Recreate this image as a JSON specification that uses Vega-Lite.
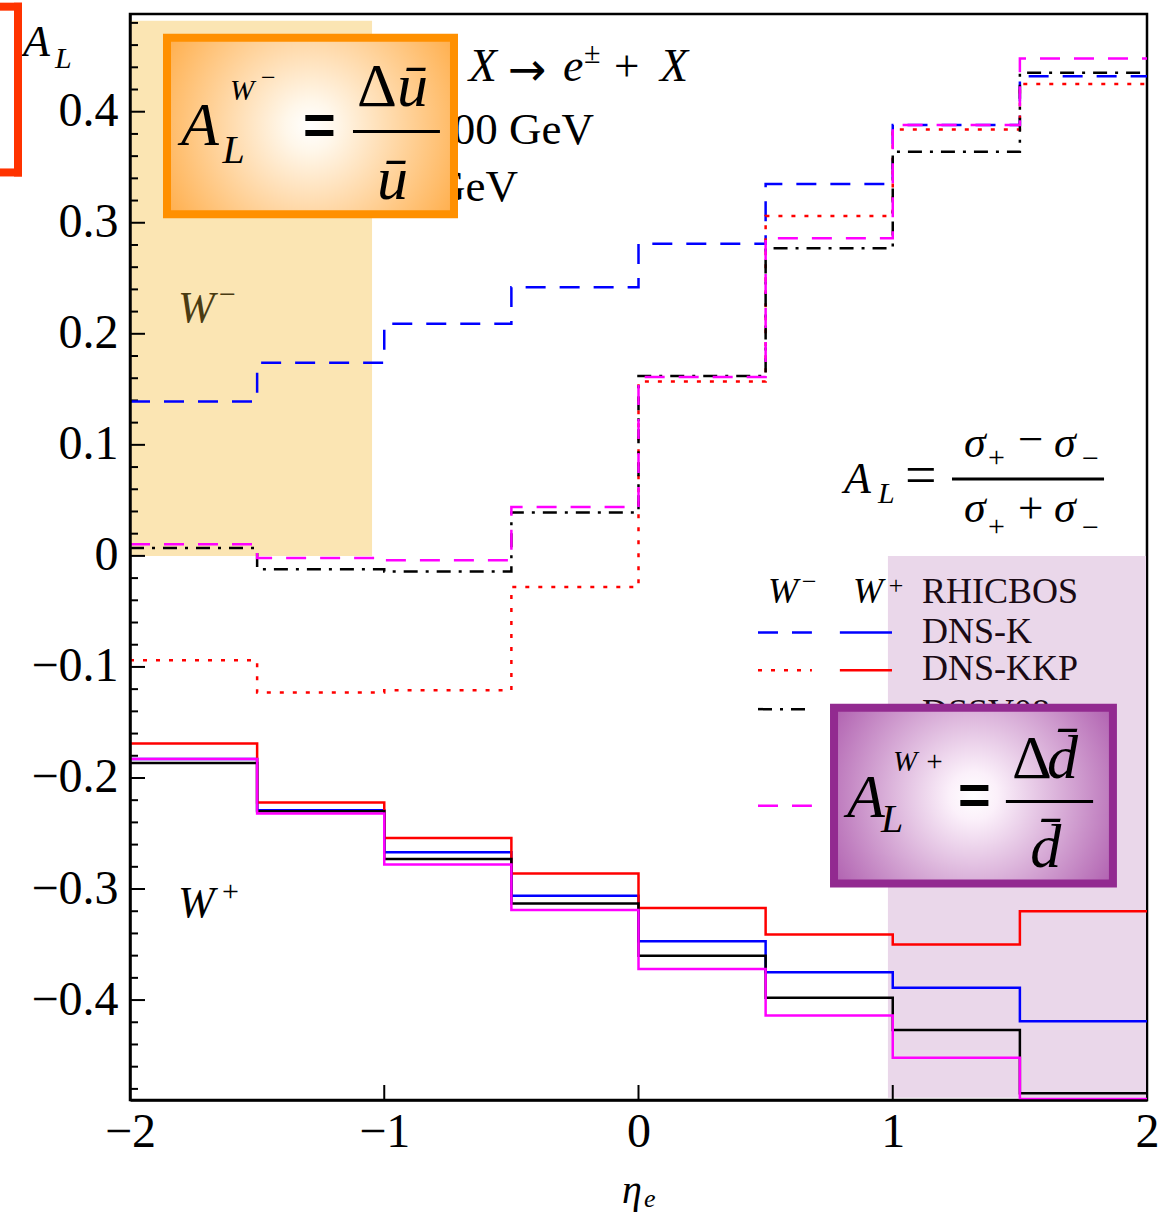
{
  "$schema": "https://vega.github.io/schema/vega-lite/v6.json",
  "width": 1017,
  "height": 1086,
  "autosize": {"type": "none"},
  "padding": {"left": 130, "top": 14, "right": 23, "bottom": 113},
  "background": "white",
  "config": {
    "view": {"stroke": "black", "strokeWidth": 2.5},
    "numberFormat": ".1~f",
    "axis": {"ticks": false, "grid": false, "domain": true, "domainColor": "black", "domainWidth": 2.5, "labelFont": "Liberation Serif", "labelFontSize": 48, "labelColor": "black", "labelFlush": false, "labelOverlap": false},
    "axisX": {"labelPadding": 8},
    "axisY": {"labelPadding": 12}
  },
  "datasets": {
    "al": [
      {"pdf": "DNS-K", "W": "W-", "x": -2, "y": 0.139}, {"pdf": "DNS-K", "W": "W-", "x": -1.5, "y": 0.174}, {"pdf": "DNS-K", "W": "W-", "x": -1, "y": 0.209}, {"pdf": "DNS-K", "W": "W-", "x": -0.5, "y": 0.242}, {"pdf": "DNS-K", "W": "W-", "x": 0, "y": 0.281}, {"pdf": "DNS-K", "W": "W-", "x": 0.5, "y": 0.335}, {"pdf": "DNS-K", "W": "W-", "x": 1, "y": 0.388}, {"pdf": "DNS-K", "W": "W-", "x": 1.5, "y": 0.432}, {"pdf": "DNS-K", "W": "W-", "x": 2, "y": 0.432},
      {"pdf": "DNS-KKP", "W": "W-", "x": -2, "y": -0.094}, {"pdf": "DNS-KKP", "W": "W-", "x": -1.5, "y": -0.123}, {"pdf": "DNS-KKP", "W": "W-", "x": -1, "y": -0.121}, {"pdf": "DNS-KKP", "W": "W-", "x": -0.5, "y": -0.028}, {"pdf": "DNS-KKP", "W": "W-", "x": 0, "y": 0.157}, {"pdf": "DNS-KKP", "W": "W-", "x": 0.5, "y": 0.306}, {"pdf": "DNS-KKP", "W": "W-", "x": 1, "y": 0.384}, {"pdf": "DNS-KKP", "W": "W-", "x": 1.5, "y": 0.425}, {"pdf": "DNS-KKP", "W": "W-", "x": 2, "y": 0.425},
      {"pdf": "DSSV08", "W": "W-", "x": -2, "y": 0.007}, {"pdf": "DSSV08", "W": "W-", "x": -1.5, "y": -0.012}, {"pdf": "DSSV08", "W": "W-", "x": -1, "y": -0.014}, {"pdf": "DSSV08", "W": "W-", "x": -0.5, "y": 0.039}, {"pdf": "DSSV08", "W": "W-", "x": 0, "y": 0.162}, {"pdf": "DSSV08", "W": "W-", "x": 0.5, "y": 0.277}, {"pdf": "DSSV08", "W": "W-", "x": 1, "y": 0.364}, {"pdf": "DSSV08", "W": "W-", "x": 1.5, "y": 0.435}, {"pdf": "DSSV08", "W": "W-", "x": 2, "y": 0.435},
      {"pdf": "Model 5", "W": "W-", "x": -2, "y": 0.0105}, {"pdf": "Model 5", "W": "W-", "x": -1.5, "y": -0.002}, {"pdf": "Model 5", "W": "W-", "x": -1, "y": -0.004}, {"pdf": "Model 5", "W": "W-", "x": -0.5, "y": 0.044}, {"pdf": "Model 5", "W": "W-", "x": 0, "y": 0.161}, {"pdf": "Model 5", "W": "W-", "x": 0.5, "y": 0.286}, {"pdf": "Model 5", "W": "W-", "x": 1, "y": 0.388}, {"pdf": "Model 5", "W": "W-", "x": 1.5, "y": 0.448}, {"pdf": "Model 5", "W": "W-", "x": 2, "y": 0.448},
      {"pdf": "DNS-K", "W": "W+", "x": -2, "y": -0.183}, {"pdf": "DNS-K", "W": "W+", "x": -1.5, "y": -0.229}, {"pdf": "DNS-K", "W": "W+", "x": -1, "y": -0.267}, {"pdf": "DNS-K", "W": "W+", "x": -0.5, "y": -0.306}, {"pdf": "DNS-K", "W": "W+", "x": 0, "y": -0.347}, {"pdf": "DNS-K", "W": "W+", "x": 0.5, "y": -0.375}, {"pdf": "DNS-K", "W": "W+", "x": 1, "y": -0.389}, {"pdf": "DNS-K", "W": "W+", "x": 1.5, "y": -0.419}, {"pdf": "DNS-K", "W": "W+", "x": 2, "y": -0.419},
      {"pdf": "DNS-KKP", "W": "W+", "x": -2, "y": -0.169}, {"pdf": "DNS-KKP", "W": "W+", "x": -1.5, "y": -0.222}, {"pdf": "DNS-KKP", "W": "W+", "x": -1, "y": -0.254}, {"pdf": "DNS-KKP", "W": "W+", "x": -0.5, "y": -0.286}, {"pdf": "DNS-KKP", "W": "W+", "x": 0, "y": -0.317}, {"pdf": "DNS-KKP", "W": "W+", "x": 0.5, "y": -0.341}, {"pdf": "DNS-KKP", "W": "W+", "x": 1, "y": -0.35}, {"pdf": "DNS-KKP", "W": "W+", "x": 1.5, "y": -0.32}, {"pdf": "DNS-KKP", "W": "W+", "x": 2, "y": -0.32},
      {"pdf": "DSSV08", "W": "W+", "x": -2, "y": -0.1865}, {"pdf": "DSSV08", "W": "W+", "x": -1.5, "y": -0.23}, {"pdf": "DSSV08", "W": "W+", "x": -1, "y": -0.273}, {"pdf": "DSSV08", "W": "W+", "x": -0.5, "y": -0.313}, {"pdf": "DSSV08", "W": "W+", "x": 0, "y": -0.36}, {"pdf": "DSSV08", "W": "W+", "x": 0.5, "y": -0.398}, {"pdf": "DSSV08", "W": "W+", "x": 1, "y": -0.427}, {"pdf": "DSSV08", "W": "W+", "x": 1.5, "y": -0.484}, {"pdf": "DSSV08", "W": "W+", "x": 2, "y": -0.484},
      {"pdf": "Model 5", "W": "W+", "x": -2, "y": -0.183}, {"pdf": "Model 5", "W": "W+", "x": -1.5, "y": -0.232}, {"pdf": "Model 5", "W": "W+", "x": -1, "y": -0.278}, {"pdf": "Model 5", "W": "W+", "x": -0.5, "y": -0.319}, {"pdf": "Model 5", "W": "W+", "x": 0, "y": -0.372}, {"pdf": "Model 5", "W": "W+", "x": 0.5, "y": -0.414}, {"pdf": "Model 5", "W": "W+", "x": 1, "y": -0.452}, {"pdf": "Model 5", "W": "W+", "x": 1.5, "y": -0.489}, {"pdf": "Model 5", "W": "W+", "x": 2, "y": -0.489}
    ],
    "shade": [
      {"r": "Wm", "x": -1.996, "x2": -1.048, "y": 0, "y2": 0.482},
      {"r": "Wp", "x": 0.981, "x2": 1.996, "y": -0.488, "y2": 0}
    ],
    "minor": [
      {"y": -0.48}, {"y": -0.46}, {"y": -0.44}, {"y": -0.42}, {"y": -0.38}, {"y": -0.36}, {"y": -0.34}, {"y": -0.32},
      {"y": -0.28}, {"y": -0.26}, {"y": -0.24}, {"y": -0.22}, {"y": -0.18}, {"y": -0.16}, {"y": -0.14}, {"y": -0.12},
      {"y": -0.08}, {"y": -0.06}, {"y": -0.04}, {"y": -0.02}, {"y": 0.02}, {"y": 0.04}, {"y": 0.06}, {"y": 0.08},
      {"y": 0.12}, {"y": 0.14}, {"y": 0.16}, {"y": 0.18}, {"y": 0.22}, {"y": 0.24}, {"y": 0.26}, {"y": 0.28},
      {"y": 0.32}, {"y": 0.34}, {"y": 0.36}, {"y": 0.38}, {"y": 0.42}, {"y": 0.44}, {"y": 0.46}, {"y": 0.48}
    ],
    "major": [
      {"y": -0.4}, {"y": -0.3}, {"y": -0.2}, {"y": -0.1}, {"y": 0}, {"y": 0.1}, {"y": 0.2}, {"y": 0.3}, {"y": 0.4}
    ],
    "xtick": [{"x": -1}, {"x": 0}, {"x": 1}],
    "leg": [
      {"pdf": "DNS-K", "W": "W-", "x": 0.47, "x2": 0.682, "y": -0.069},
      {"pdf": "DNS-KKP", "W": "W-", "x": 0.47, "x2": 0.682, "y": -0.103},
      {"pdf": "DSSV08", "W": "W-", "x": 0.47, "x2": 0.682, "y": -0.138},
      {"pdf": "Model 5", "W": "W-", "x": 0.47, "x2": 0.682, "y": -0.225},
      {"pdf": "DNS-K", "W": "W+", "x": 0.792, "x2": 0.997, "y": -0.069},
      {"pdf": "DNS-KKP", "W": "W+", "x": 0.792, "x2": 0.997, "y": -0.103},
      {"pdf": "DSSV08", "W": "W+", "x": 0.792, "x2": 0.997, "y": -0.138},
      {"pdf": "Model 5", "W": "W+", "x": 0.792, "x2": 0.997, "y": -0.225}
    ],
    "t_it44": [
      {"x": -2.4208, "y": 0.4505, "t": "A"},
      {"x": -1.8112, "y": -0.3255, "t": "W"},
      {"x": 0.808, "y": 0.0567, "t": "A"},
      {"x": 1.2802, "y": 0.089, "t": "σ"},
      {"x": 1.6342, "y": 0.089, "t": "σ"},
      {"x": 1.2802, "y": 0.0306, "t": "σ"},
      {"x": 1.6342, "y": 0.0306, "t": "σ"}
    ],
    "t_it44_olive": [{"x": -1.8112, "y": 0.2104, "t": "W"}],
    "t_it30": [
      {"x": -2.295, "y": 0.4397, "t": "L"},
      {"x": 0.942, "y": 0.048, "t": "L"}
    ],
    "t_rm30": [
      {"x": -1.638, "y": -0.311, "t": "+"},
      {"x": -0.2144, "y": 0.444, "t": "±"},
      {"x": 1.3746, "y": 0.08, "t": "+"},
      {"x": 1.7443, "y": 0.0791, "t": "−"},
      {"x": 1.3746, "y": 0.018, "t": "+"},
      {"x": 1.7443, "y": 0.0171, "t": "−"}
    ],
    "t_rm30_olive": [{"x": -1.65, "y": 0.2266, "t": "−"}],
    "t_rm45": [
      {"x": 1.4926, "y": 0.0917, "t": "−"},
      {"x": 1.4926, "y": 0.0297, "t": "+"},
      {"x": -0.0964, "y": 0.428, "t": "+"}
    ],
    "t_eq56": [{"x": 1.048, "y": 0.0558, "t": "="}],
    "t_it40": [{"x": -0.0649, "y": -0.5827, "t": "η"}],
    "t_it26": [
      {"x": 0.0216, "y": -0.5863, "t": "e"},
      {"x": 0.635, "y": -0.0306, "t": "−"},
      {"x": 0.977, "y": -0.034, "t": "+"}
    ],
    "t_leg_it": [
      {"x": 0.5093, "y": -0.0423, "t": "W"},
      {"x": 0.8437, "y": -0.0423, "t": "W"}
    ],
    "t_leg_rm": [
      {"x": 1.115, "y": -0.0423, "t": "RHICBOS"},
      {"x": 1.115, "y": -0.0782, "t": "DNS-K"},
      {"x": 1.115, "y": -0.1115, "t": "DNS-KKP"},
      {"x": 1.115, "y": -0.1511, "t": "DSSV08"}
    ],
    "t_l1_right": [{"x": -0.5566, "y": 0.428, "t": "W± + X"}],
    "t_l1_left": [{"x": -0.297, "y": 0.428, "t": "e"}, {"x": 0.0846, "y": 0.428, "t": "X"}],
    "t_arrow": [{"x": -0.5133, "y": 0.424, "t": "→"}],
    "t_line23": [
      {"x": -0.175, "y": 0.371, "t": "√s = 500 GeV"},
      {"x": -0.474, "y": 0.32, "t": "pT > 25 GeV"}
    ],
    "obox": [{"x": -1.8545, "x2": -0.7257, "y": 0.4667, "y2": 0.3076}],
    "pbox": [{"x": 0.769, "x2": 1.866, "y": -0.1367, "y2": -0.295}],
    "b_A": [{"x": -1.799, "y": 0.3696, "t": "A"}, {"x": 0.82, "y": -0.2347, "t": "A"}],
    "b_L": [{"x": -1.636, "y": 0.3534, "t": "L"}, {"x": 0.954, "y": -0.249, "t": "L"}],
    "b_W": [{"x": -1.607, "y": 0.411, "t": "W"}, {"x": 1.001, "y": -0.194, "t": "W +"}],
    "b_minus": [{"x": -1.485, "y": 0.4236, "t": "−"}],
    "b_eq": [{"x": -1.3196, "y": 0.3705, "t": "="}, {"x": 1.257, "y": -0.232, "t": "="}],
    "b_delta": [{"x": -1.1072, "y": 0.4047, "t": "Δ"}, {"x": 1.469, "y": -0.1996, "t": "Δ"}],
    "b_var": [
      {"x": -0.9499, "y": 0.4047, "t": "ū"},
      {"x": -1.0285, "y": 0.321, "t": "ū"},
      {"x": 1.6066, "y": -0.1996, "t": "d̄"},
      {"x": 1.5406, "y": -0.2806, "t": "d̄"}
    ],
    "fracline": [
      {"x": 1.233, "x2": 1.831, "y": 0.0692},
      {"x": -1.123, "x2": -0.781, "y": 0.3822},
      {"x": 1.445, "x2": 1.788, "y": -0.2212}
    ],
    "bracket": [
      {"x": -2.4405, "x2": -2.4405, "y": 0.4982, "y2": 0.3417},
      {"x": -2.52, "x2": -2.4248, "y": 0.4946, "y2": 0.4946},
      {"x": -2.52, "x2": -2.4248, "y": 0.3453, "y2": 0.3453}
    ]
  },
  "layer": [
    {
      "data": {"name": "shade"},
      "mark": {"type": "rect"},
      "encoding": {
        "x": {"field": "x", "type": "quantitative", "scale": {"domain": [-2, 2], "nice": false, "zero": false}, "axis": {"values": [-2, -1, 0, 1, 2], "title": null, "zindex": 1}},
        "x2": {"field": "x2"},
        "y": {"field": "y", "type": "quantitative", "scale": {"domain": [-0.49, 0.488], "nice": false, "zero": false}, "axis": {"values": [-0.4, -0.3, -0.2, -0.1, 0, 0.1, 0.2, 0.3, 0.4], "title": null, "zindex": 1}},
        "y2": {"field": "y2"},
        "fill": {"field": "r", "type": "nominal", "scale": {"domain": ["Wm", "Wp"], "range": ["#FBE5B3", "#EAD7EA"]}, "legend": null}
      }
    },
    {
      "mark": {"type": "rule", "color": "black", "strokeWidth": 2.5},
      "encoding": {"y": {"datum": 0, "type": "quantitative", "axis": {"values": [-0.4, -0.3, -0.2, -0.1, 0, 0.1, 0.2, 0.3, 0.4], "title": null, "zindex": 1}}}
    },
    {
      "data": {"name": "minor"},
      "mark": {"type": "rule", "color": "black", "strokeWidth": 2},
      "encoding": {
        "x": {"datum": -2, "type": "quantitative", "axis": {"values": [-2, -1, 0, 1, 2], "title": null, "zindex": 1}},
        "x2": {"datum": -1.9685},
        "y": {"field": "y", "type": "quantitative", "axis": {"values": [-0.4, -0.3, -0.2, -0.1, 0, 0.1, 0.2, 0.3, 0.4], "title": null, "zindex": 1}}
      }
    },
    {
      "data": {"name": "major"},
      "mark": {"type": "rule", "color": "black", "strokeWidth": 2},
      "encoding": {
        "x": {"datum": -2, "type": "quantitative", "axis": {"values": [-2, -1, 0, 1, 2], "title": null, "zindex": 1}},
        "x2": {"datum": -1.941},
        "y": {"field": "y", "type": "quantitative", "axis": {"values": [-0.4, -0.3, -0.2, -0.1, 0, 0.1, 0.2, 0.3, 0.4], "title": null, "zindex": 1}}
      }
    },
    {
      "data": {"name": "xtick"},
      "mark": {"type": "rule", "color": "black", "strokeWidth": 2},
      "encoding": {
        "x": {"field": "x", "type": "quantitative", "axis": {"values": [-2, -1, 0, 1, 2], "title": null, "zindex": 1}},
        "y": {"datum": -0.49, "type": "quantitative", "axis": {"values": [-0.4, -0.3, -0.2, -0.1, 0, 0.1, 0.2, 0.3, 0.4], "title": null, "zindex": 1}},
        "y2": {"datum": -0.4765}
      }
    },
    {
      "data": {"name": "al"},
      "transform": [{"filter": "datum.W == 'W-'"}],
      "mark": {"type": "line", "interpolate": "step-after", "strokeWidth": 2.5, "strokeCap": "butt"},
      "encoding": {
        "x": {"field": "x", "type": "quantitative", "axis": {"values": [-2, -1, 0, 1, 2], "title": null, "zindex": 1}},
        "y": {"field": "y", "type": "quantitative", "axis": {"values": [-0.4, -0.3, -0.2, -0.1, 0, 0.1, 0.2, 0.3, 0.4], "title": null, "zindex": 1}},
        "color": {"field": "pdf", "type": "nominal", "scale": {"domain": ["DNS-K", "DNS-KKP", "DSSV08", "Model 5"], "range": ["#0000FF", "#FF0000", "#000000", "#FF00FF"]}, "legend": null},
        "strokeDash": {"field": "pdf", "type": "nominal", "scale": {"domain": ["DNS-K", "DNS-KKP", "DSSV08", "Model 5"], "range": [[20, 14], [4, 9], [14, 8, 3, 8], [20, 14]]}, "legend": null}
      }
    },
    {
      "data": {"name": "al"},
      "transform": [{"filter": "datum.W == 'W+'"}],
      "mark": {"type": "line", "interpolate": "step-after", "strokeWidth": 2.5, "strokeCap": "butt"},
      "encoding": {
        "x": {"field": "x", "type": "quantitative", "axis": {"values": [-2, -1, 0, 1, 2], "title": null, "zindex": 1}},
        "y": {"field": "y", "type": "quantitative", "axis": {"values": [-0.4, -0.3, -0.2, -0.1, 0, 0.1, 0.2, 0.3, 0.4], "title": null, "zindex": 1}},
        "color": {"field": "pdf", "type": "nominal", "legend": null}
      }
    },
    {
      "data": {"name": "leg"},
      "transform": [{"filter": "datum.W == 'W-'"}],
      "mark": {"type": "rule", "strokeWidth": 2.5, "strokeCap": "butt"},
      "encoding": {
        "x": {"field": "x", "type": "quantitative", "axis": {"values": [-2, -1, 0, 1, 2], "title": null, "zindex": 1}},
        "x2": {"field": "x2"},
        "y": {"field": "y", "type": "quantitative", "axis": {"values": [-0.4, -0.3, -0.2, -0.1, 0, 0.1, 0.2, 0.3, 0.4], "title": null, "zindex": 1}},
        "color": {"field": "pdf", "type": "nominal", "legend": null},
        "strokeDash": {"field": "pdf", "type": "nominal", "legend": null}
      }
    },
    {
      "data": {"name": "leg"},
      "transform": [{"filter": "datum.W == 'W+'"}],
      "mark": {"type": "rule", "strokeWidth": 2.5, "strokeCap": "butt"},
      "encoding": {
        "x": {"field": "x", "type": "quantitative", "axis": {"values": [-2, -1, 0, 1, 2], "title": null, "zindex": 1}},
        "x2": {"field": "x2"},
        "y": {"field": "y", "type": "quantitative", "axis": {"values": [-0.4, -0.3, -0.2, -0.1, 0, 0.1, 0.2, 0.3, 0.4], "title": null, "zindex": 1}},
        "color": {"field": "pdf", "type": "nominal", "legend": null}
      }
    },
    {
      "data": {"name": "t_it44"},
      "mark": {"type": "text", "font": "Liberation Serif", "fontStyle": "italic", "fontSize": 44, "align": "left", "baseline": "alphabetic", "color": "black"},
      "encoding": {"x": {"field": "x", "type": "quantitative", "axis": {"values": [-2, -1, 0, 1, 2], "title": null, "zindex": 1}}, "y": {"field": "y", "type": "quantitative", "axis": {"values": [-0.4, -0.3, -0.2, -0.1, 0, 0.1, 0.2, 0.3, 0.4], "title": null, "zindex": 1}}, "text": {"field": "t"}}
    },
    {
      "data": {"name": "t_it44_olive"},
      "mark": {"type": "text", "font": "Liberation Serif", "fontStyle": "italic", "fontSize": 44, "align": "left", "baseline": "alphabetic", "color": "#4A3B12"},
      "encoding": {"x": {"field": "x", "type": "quantitative", "axis": {"values": [-2, -1, 0, 1, 2], "title": null, "zindex": 1}}, "y": {"field": "y", "type": "quantitative", "axis": {"values": [-0.4, -0.3, -0.2, -0.1, 0, 0.1, 0.2, 0.3, 0.4], "title": null, "zindex": 1}}, "text": {"field": "t"}}
    },
    {
      "data": {"name": "t_it30"},
      "mark": {"type": "text", "font": "Liberation Serif", "fontStyle": "italic", "fontSize": 30, "align": "left", "baseline": "alphabetic", "color": "black"},
      "encoding": {"x": {"field": "x", "type": "quantitative", "axis": {"values": [-2, -1, 0, 1, 2], "title": null, "zindex": 1}}, "y": {"field": "y", "type": "quantitative", "axis": {"values": [-0.4, -0.3, -0.2, -0.1, 0, 0.1, 0.2, 0.3, 0.4], "title": null, "zindex": 1}}, "text": {"field": "t"}}
    },
    {
      "data": {"name": "t_rm30"},
      "mark": {"type": "text", "font": "Liberation Serif", "fontSize": 30, "align": "left", "baseline": "alphabetic", "color": "black"},
      "encoding": {"x": {"field": "x", "type": "quantitative", "axis": {"values": [-2, -1, 0, 1, 2], "title": null, "zindex": 1}}, "y": {"field": "y", "type": "quantitative", "axis": {"values": [-0.4, -0.3, -0.2, -0.1, 0, 0.1, 0.2, 0.3, 0.4], "title": null, "zindex": 1}}, "text": {"field": "t"}}
    },
    {
      "data": {"name": "t_rm30_olive"},
      "mark": {"type": "text", "font": "Liberation Serif", "fontSize": 30, "align": "left", "baseline": "alphabetic", "color": "#4A3B12"},
      "encoding": {"x": {"field": "x", "type": "quantitative", "axis": {"values": [-2, -1, 0, 1, 2], "title": null, "zindex": 1}}, "y": {"field": "y", "type": "quantitative", "axis": {"values": [-0.4, -0.3, -0.2, -0.1, 0, 0.1, 0.2, 0.3, 0.4], "title": null, "zindex": 1}}, "text": {"field": "t"}}
    },
    {
      "data": {"name": "t_rm45"},
      "mark": {"type": "text", "font": "Liberation Serif", "fontSize": 45, "align": "left", "baseline": "alphabetic", "color": "black"},
      "encoding": {"x": {"field": "x", "type": "quantitative", "axis": {"values": [-2, -1, 0, 1, 2], "title": null, "zindex": 1}}, "y": {"field": "y", "type": "quantitative", "axis": {"values": [-0.4, -0.3, -0.2, -0.1, 0, 0.1, 0.2, 0.3, 0.4], "title": null, "zindex": 1}}, "text": {"field": "t"}}
    },
    {
      "data": {"name": "t_eq56"},
      "mark": {"type": "text", "font": "Liberation Serif", "fontSize": 56, "align": "left", "baseline": "alphabetic", "color": "black"},
      "encoding": {"x": {"field": "x", "type": "quantitative", "axis": {"values": [-2, -1, 0, 1, 2], "title": null, "zindex": 1}}, "y": {"field": "y", "type": "quantitative", "axis": {"values": [-0.4, -0.3, -0.2, -0.1, 0, 0.1, 0.2, 0.3, 0.4], "title": null, "zindex": 1}}, "text": {"field": "t"}}
    },
    {
      "data": {"name": "t_it40"},
      "mark": {"type": "text", "font": "Liberation Serif", "fontStyle": "italic", "fontSize": 40, "align": "left", "baseline": "alphabetic", "color": "black"},
      "encoding": {"x": {"field": "x", "type": "quantitative", "axis": {"values": [-2, -1, 0, 1, 2], "title": null, "zindex": 1}}, "y": {"field": "y", "type": "quantitative", "axis": {"values": [-0.4, -0.3, -0.2, -0.1, 0, 0.1, 0.2, 0.3, 0.4], "title": null, "zindex": 1}}, "text": {"field": "t"}}
    },
    {
      "data": {"name": "t_it26"},
      "mark": {"type": "text", "font": "Liberation Serif", "fontStyle": "italic", "fontSize": 26, "align": "left", "baseline": "alphabetic", "color": "black"},
      "encoding": {"x": {"field": "x", "type": "quantitative", "axis": {"values": [-2, -1, 0, 1, 2], "title": null, "zindex": 1}}, "y": {"field": "y", "type": "quantitative", "axis": {"values": [-0.4, -0.3, -0.2, -0.1, 0, 0.1, 0.2, 0.3, 0.4], "title": null, "zindex": 1}}, "text": {"field": "t"}}
    },
    {
      "data": {"name": "t_leg_it"},
      "mark": {"type": "text", "font": "Liberation Serif", "fontStyle": "italic", "fontSize": 36, "align": "left", "baseline": "alphabetic", "color": "black"},
      "encoding": {"x": {"field": "x", "type": "quantitative", "axis": {"values": [-2, -1, 0, 1, 2], "title": null, "zindex": 1}}, "y": {"field": "y", "type": "quantitative", "axis": {"values": [-0.4, -0.3, -0.2, -0.1, 0, 0.1, 0.2, 0.3, 0.4], "title": null, "zindex": 1}}, "text": {"field": "t"}}
    },
    {
      "data": {"name": "t_leg_rm"},
      "mark": {"type": "text", "font": "Liberation Serif", "fontSize": 36, "align": "left", "baseline": "alphabetic", "color": "#1A0A14"},
      "encoding": {"x": {"field": "x", "type": "quantitative", "axis": {"values": [-2, -1, 0, 1, 2], "title": null, "zindex": 1}}, "y": {"field": "y", "type": "quantitative", "axis": {"values": [-0.4, -0.3, -0.2, -0.1, 0, 0.1, 0.2, 0.3, 0.4], "title": null, "zindex": 1}}, "text": {"field": "t"}}
    },
    {
      "data": {"name": "t_l1_right"},
      "mark": {"type": "text", "font": "Liberation Serif", "fontStyle": "italic", "fontSize": 46, "align": "right", "baseline": "alphabetic", "color": "black"},
      "encoding": {"x": {"field": "x", "type": "quantitative", "axis": {"values": [-2, -1, 0, 1, 2], "title": null, "zindex": 1}}, "y": {"field": "y", "type": "quantitative", "axis": {"values": [-0.4, -0.3, -0.2, -0.1, 0, 0.1, 0.2, 0.3, 0.4], "title": null, "zindex": 1}}, "text": {"field": "t"}}
    },
    {
      "data": {"name": "t_l1_left"},
      "mark": {"type": "text", "font": "Liberation Serif", "fontStyle": "italic", "fontSize": 46, "align": "left", "baseline": "alphabetic", "color": "black"},
      "encoding": {"x": {"field": "x", "type": "quantitative", "axis": {"values": [-2, -1, 0, 1, 2], "title": null, "zindex": 1}}, "y": {"field": "y", "type": "quantitative", "axis": {"values": [-0.4, -0.3, -0.2, -0.1, 0, 0.1, 0.2, 0.3, 0.4], "title": null, "zindex": 1}}, "text": {"field": "t"}}
    },
    {
      "data": {"name": "t_arrow"},
      "mark": {"type": "text", "font": "DejaVu Sans", "fontSize": 46, "align": "left", "baseline": "alphabetic", "color": "black"},
      "encoding": {"x": {"field": "x", "type": "quantitative", "axis": {"values": [-2, -1, 0, 1, 2], "title": null, "zindex": 1}}, "y": {"field": "y", "type": "quantitative", "axis": {"values": [-0.4, -0.3, -0.2, -0.1, 0, 0.1, 0.2, 0.3, 0.4], "title": null, "zindex": 1}}, "text": {"field": "t"}}
    },
    {
      "data": {"name": "t_line23"},
      "mark": {"type": "text", "font": "Liberation Serif", "fontSize": 45, "align": "right", "baseline": "alphabetic", "color": "black"},
      "encoding": {"x": {"field": "x", "type": "quantitative", "axis": {"values": [-2, -1, 0, 1, 2], "title": null, "zindex": 1}}, "y": {"field": "y", "type": "quantitative", "axis": {"values": [-0.4, -0.3, -0.2, -0.1, 0, 0.1, 0.2, 0.3, 0.4], "title": null, "zindex": 1}}, "text": {"field": "t"}}
    },
    {
      "data": {"name": "obox"},
      "mark": {"type": "rect", "stroke": "#FF9000", "strokeWidth": 8,
        "fill": {"gradient": "radial", "x1": 0.5, "y1": 0.5, "r1": 0, "x2": 0.5, "y2": 0.5, "r2": 0.72, "stops": [{"offset": 0, "color": "#FFFFFF"}, {"offset": 0.12, "color": "#FFF7EA"}, {"offset": 1, "color": "#FF9A20"}]}},
      "encoding": {"x": {"field": "x", "type": "quantitative", "axis": {"values": [-2, -1, 0, 1, 2], "title": null, "zindex": 1}}, "x2": {"field": "x2"}, "y": {"field": "y", "type": "quantitative", "axis": {"values": [-0.4, -0.3, -0.2, -0.1, 0, 0.1, 0.2, 0.3, 0.4], "title": null, "zindex": 1}}, "y2": {"field": "y2"}}
    },
    {
      "data": {"name": "pbox"},
      "mark": {"type": "rect", "stroke": "#922A90", "strokeWidth": 8,
        "fill": {"gradient": "radial", "x1": 0.5, "y1": 0.5, "r1": 0, "x2": 0.5, "y2": 0.5, "r2": 0.72, "stops": [{"offset": 0, "color": "#FFFFFF"}, {"offset": 0.12, "color": "#FBF0FA"}, {"offset": 1, "color": "#9C3A9C"}]}},
      "encoding": {"x": {"field": "x", "type": "quantitative", "axis": {"values": [-2, -1, 0, 1, 2], "title": null, "zindex": 1}}, "x2": {"field": "x2"}, "y": {"field": "y", "type": "quantitative", "axis": {"values": [-0.4, -0.3, -0.2, -0.1, 0, 0.1, 0.2, 0.3, 0.4], "title": null, "zindex": 1}}, "y2": {"field": "y2"}}
    },
    {
      "data": {"name": "b_A"},
      "mark": {"type": "text", "font": "Liberation Serif", "fontStyle": "italic", "fontSize": 62, "align": "left", "baseline": "alphabetic", "color": "black"},
      "encoding": {"x": {"field": "x", "type": "quantitative", "axis": {"values": [-2, -1, 0, 1, 2], "title": null, "zindex": 1}}, "y": {"field": "y", "type": "quantitative", "axis": {"values": [-0.4, -0.3, -0.2, -0.1, 0, 0.1, 0.2, 0.3, 0.4], "title": null, "zindex": 1}}, "text": {"field": "t"}}
    },
    {
      "data": {"name": "b_L"},
      "mark": {"type": "text", "font": "Liberation Serif", "fontStyle": "italic", "fontSize": 40, "align": "left", "baseline": "alphabetic", "color": "black"},
      "encoding": {"x": {"field": "x", "type": "quantitative", "axis": {"values": [-2, -1, 0, 1, 2], "title": null, "zindex": 1}}, "y": {"field": "y", "type": "quantitative", "axis": {"values": [-0.4, -0.3, -0.2, -0.1, 0, 0.1, 0.2, 0.3, 0.4], "title": null, "zindex": 1}}, "text": {"field": "t"}}
    },
    {
      "data": {"name": "b_W"},
      "mark": {"type": "text", "font": "Liberation Serif", "fontStyle": "italic", "fontSize": 29, "align": "left", "baseline": "alphabetic", "color": "black"},
      "encoding": {"x": {"field": "x", "type": "quantitative", "axis": {"values": [-2, -1, 0, 1, 2], "title": null, "zindex": 1}}, "y": {"field": "y", "type": "quantitative", "axis": {"values": [-0.4, -0.3, -0.2, -0.1, 0, 0.1, 0.2, 0.3, 0.4], "title": null, "zindex": 1}}, "text": {"field": "t"}}
    },
    {
      "data": {"name": "b_minus"},
      "mark": {"type": "text", "font": "Liberation Serif", "fontSize": 26, "align": "left", "baseline": "alphabetic", "color": "black"},
      "encoding": {"x": {"field": "x", "type": "quantitative", "axis": {"values": [-2, -1, 0, 1, 2], "title": null, "zindex": 1}}, "y": {"field": "y", "type": "quantitative", "axis": {"values": [-0.4, -0.3, -0.2, -0.1, 0, 0.1, 0.2, 0.3, 0.4], "title": null, "zindex": 1}}, "text": {"field": "t"}}
    },
    {
      "data": {"name": "b_eq"},
      "mark": {"type": "text", "font": "Liberation Sans", "fontWeight": "bold", "fontSize": 56, "align": "left", "baseline": "alphabetic", "color": "black"},
      "encoding": {"x": {"field": "x", "type": "quantitative", "axis": {"values": [-2, -1, 0, 1, 2], "title": null, "zindex": 1}}, "y": {"field": "y", "type": "quantitative", "axis": {"values": [-0.4, -0.3, -0.2, -0.1, 0, 0.1, 0.2, 0.3, 0.4], "title": null, "zindex": 1}}, "text": {"field": "t"}}
    },
    {
      "data": {"name": "b_delta"},
      "mark": {"type": "text", "font": "Liberation Serif", "fontSize": 62, "align": "left", "baseline": "alphabetic", "color": "black"},
      "encoding": {"x": {"field": "x", "type": "quantitative", "axis": {"values": [-2, -1, 0, 1, 2], "title": null, "zindex": 1}}, "y": {"field": "y", "type": "quantitative", "axis": {"values": [-0.4, -0.3, -0.2, -0.1, 0, 0.1, 0.2, 0.3, 0.4], "title": null, "zindex": 1}}, "text": {"field": "t"}}
    },
    {
      "data": {"name": "b_var"},
      "mark": {"type": "text", "font": "Liberation Serif", "fontStyle": "italic", "fontSize": 62, "align": "left", "baseline": "alphabetic", "color": "black"},
      "encoding": {"x": {"field": "x", "type": "quantitative", "axis": {"values": [-2, -1, 0, 1, 2], "title": null, "zindex": 1}}, "y": {"field": "y", "type": "quantitative", "axis": {"values": [-0.4, -0.3, -0.2, -0.1, 0, 0.1, 0.2, 0.3, 0.4], "title": null, "zindex": 1}}, "text": {"field": "t"}}
    },
    {
      "data": {"name": "fracline"},
      "mark": {"type": "rule", "color": "black", "strokeWidth": 3},
      "encoding": {"x": {"field": "x", "type": "quantitative", "axis": {"values": [-2, -1, 0, 1, 2], "title": null, "zindex": 1}}, "x2": {"field": "x2"}, "y": {"field": "y", "type": "quantitative", "axis": {"values": [-0.4, -0.3, -0.2, -0.1, 0, 0.1, 0.2, 0.3, 0.4], "title": null, "zindex": 1}}}
    },
    {
      "data": {"name": "bracket"},
      "mark": {"type": "rule", "color": "#FF3300", "strokeWidth": 8, "strokeCap": "butt"},
      "encoding": {"x": {"field": "x", "type": "quantitative", "axis": {"values": [-2, -1, 0, 1, 2], "title": null, "zindex": 1}}, "x2": {"field": "x2"}, "y": {"field": "y", "type": "quantitative", "axis": {"values": [-0.4, -0.3, -0.2, -0.1, 0, 0.1, 0.2, 0.3, 0.4], "title": null, "zindex": 1}}, "y2": {"field": "y2"}}
    }
  ]
}
